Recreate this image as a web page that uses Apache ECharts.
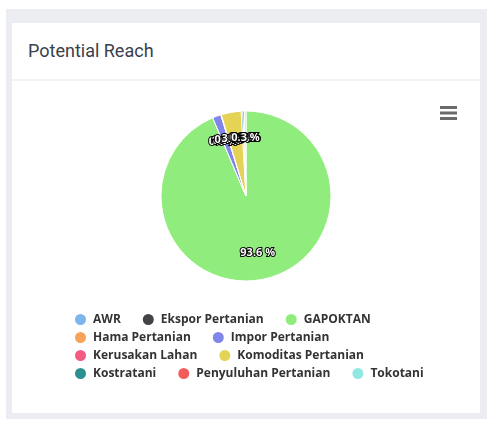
<!DOCTYPE html>
<html>
<head>
<meta charset="utf-8">
<script src="https://cdn.jsdelivr.net/npm/echarts@6/dist/echarts.min.js"></script>
<style>
  html, body { margin: 0; padding: 0; background: #ffffff; width: 492px; height: 426px; overflow: hidden; }
  #frame { position: absolute; left: 6px; top: 9px; width: 481px; height: 410px; background: #ecedf3; }
  #card { position: absolute; left: 12px; top: 23px; width: 468px; height: 390px; background: #ffffff; }
  #title { position: absolute; left: 28px; top: 40px; font-family: Roboto, sans-serif; font-size: 18px; color: #3a404d; }
  #sep { position: absolute; left: 12px; top: 79px; width: 468px; height: 2px; background: #f3f3f6; }
  #chart { position: absolute; left: 0; top: 0; width: 492px; height: 426px; }
</style>
</head>
<body>
<div id="frame"></div>
<div id="card"></div>
<div id="title">Potential Reach</div>
<div id="sep"></div>
<div id="chart"></div>
<script>
const categories = ["AWR", "Ekspor Pertanian", "GAPOKTAN", "Hama Pertanian", "Impor Pertanian",
  "Kerusakan Lahan", "Komoditas Pertanian", "Kostratani", "Penyuluhan Pertanian", "Tokotani"];
const values = [0, 0, 936, 0, 16, 1, 38, 3, 3, 3];
const colors = ["#7cb5ec", "#434348", "#90ed7d", "#f7a35c", "#8085e9",
  "#f15c80", "#e4d354", "#2b908f", "#f45b5b", "#91e8e1"];
const legendRows = [
  ["AWR", "Ekspor Pertanian", "GAPOKTAN"],
  ["Hama Pertanian", "Impor Pertanian"],
  ["Kerusakan Lahan", "Komoditas Pertanian"],
  ["Kostratani", "Penyuluhan Pertanian", "Tokotani"]
];

const data = categories.map((c, i) => ({ name: c, value: values[i] }));
const chart = echarts.init(document.getElementById('chart'), null, { renderer: 'canvas' });

const legendTops = [312, 330, 348, 366];
const legends = legendRows.map((row, i) => ({
  data: row,
  orient: 'horizontal',
  left: 73,
  top: legendTops[i],
  padding: 0,
  itemGap: 20,
  itemWidth: 13,
  itemHeight: 13,
  icon: 'circle',
  selectedMode: false,
  textStyle: { fontFamily: 'Open Sans', fontSize: 12, fontWeight: 'bold', color: '#333333', padding: [0, 0, 0, 1] }
}));

chart.setOption({
  animation: false,
  color: colors,
  legend: legends,
  graphic: [{
    type: 'group', left: 440, top: 106, silent: true,
    children: [
      { type: 'rect', shape: { x: 0, y: 0, width: 17, height: 3 }, style: { fill: '#6b6b6b' } },
      { type: 'rect', shape: { x: 0, y: 5.5, width: 17, height: 3 }, style: { fill: '#6b6b6b' } },
      { type: 'rect', shape: { x: 0, y: 11, width: 17, height: 3 }, style: { fill: '#6b6b6b' } }
    ]
  }],
  series: [
    {
      type: 'pie',
      center: [246, 196],
      radius: [0, 85],
      startAngle: 90,
      clockwise: true,
      data: data,
      label: { show: false },
      labelLine: { show: false },
      itemStyle: { borderColor: '#ffffff', borderWidth: 1 },
      emphasis: { disabled: true },
      silent: true
    },
    {
      type: 'pie',
      center: [246, 196],
      radius: [26, 85],
      startAngle: 90,
      clockwise: true,
      avoidLabelOverlap: false,
      minShowLabelAngle: -1,
      data: data,
      itemStyle: { color: 'rgba(0,0,0,0)', borderWidth: 0 },
      label: {
        show: true,
        position: 'inside',
        formatter: p => p.percent.toFixed(1) + ' %',
        fontFamily: 'Open Sans',
        fontSize: 11,
        fontWeight: 'bold',
        color: '#ffffff',
        textBorderColor: '#000000',
        textBorderWidth: 2
      },
      labelLayout: { hideOverlap: false },
      labelLine: { show: false },
      emphasis: { disabled: true },
      silent: true,
      legendHoverLink: false
    }
  ]
});
</script>
</body>
</html>
